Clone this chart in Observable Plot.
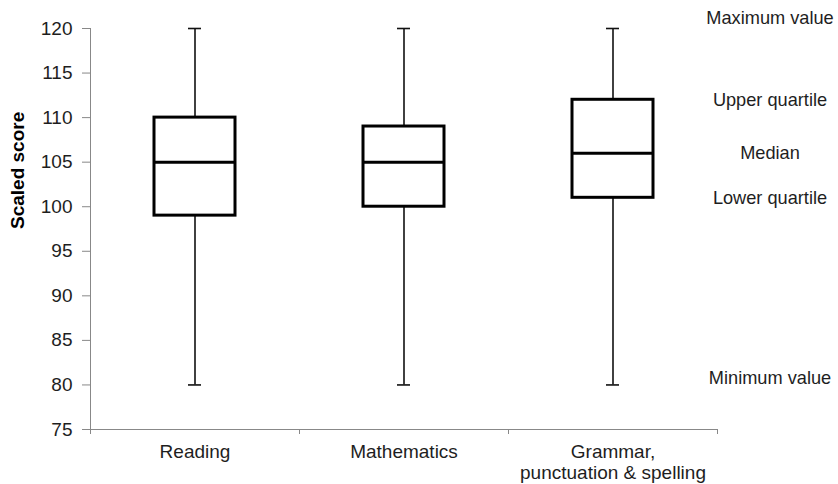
<!DOCTYPE html>
<html>
<head>
<meta charset="utf-8">
<script src="https://cdn.jsdelivr.net/npm/d3@7"></script>
<script src="https://cdn.jsdelivr.net/npm/@observablehq/plot@0.6"></script>
<style>
  html, body { margin: 0; padding: 0; background: #fff; }
  #chart svg { display: block; }
</style>
</head>
<body>
<div id="chart"></div>
<script>
// ---- data ----
const categories = ["Reading", "Mathematics", "Grammar, punctuation & spelling"];
const categoryLabels = ["Reading", "Mathematics", "Grammar,\npunctuation & spelling"];
const minValues = [80, 80, 80];
const lowerQuartiles = [99, 100, 101];
const medians = [105, 105, 106];
const upperQuartiles = [110, 109, 112];
const maxValues = [120, 120, 120];
const yTicks = [75, 80, 85, 90, 95, 100, 105, 110, 115, 120];
const yLabel = "Scaled score";
const annotationLabels = ["Maximum value", "Upper quartile", "Median", "Lower quartile", "Minimum value"];

// ---- layout / style ----
const W = 838, H = 484;
const mL = 90, mR = 121, mT = 28, mB = 55;
const bw = (W - mL - mR) / categories.length;
const axisGray = "#888";
const textColor = "#1e1e1e";
const font = "'Liberation Sans', Arial, sans-serif";

const rows = categories.map((c, i) => ({
  category: c,
  min: minValues[i],
  q1: lowerQuartiles[i],
  median: medians[i],
  q3: upperQuartiles[i],
  max: maxValues[i]
}));

const last = rows[rows.length - 1];
const annotationValues = [last.max, last.q3, last.median, last.q1, last.min];
const annotations = annotationLabels.map((label, i) => ({label, value: annotationValues[i], category: last.category}));
const annotationDy = {"Maximum value": -10, "Upper quartile": 0.5, "Median": 0, "Lower quartile": 0, "Minimum value": -7};

const chart = Plot.plot({
  width: W,
  height: H,
  marginLeft: mL,
  marginRight: mR,
  marginTop: mT,
  marginBottom: mB,
  style: {fontFamily: font, color: textColor, background: "#fff"},
  x: {domain: categories, padding: 0},
  y: {domain: [75, 120]},
  marks: [
    // axes lines
    Plot.ruleY([75], {stroke: axisGray, strokeWidth: 1}),
    Plot.frame({anchor: "left", stroke: axisGray, strokeWidth: 1}),
    // x boundary ticks
    Plot.ruleX(categories, {x: d => d, y1: 75, y2: 75, insetBottom: -5, dx: -bw / 2, stroke: axisGray}),
    Plot.ruleX([categories[categories.length - 1]], {x: d => d, y1: 75, y2: 75, insetBottom: -5, dx: bw / 2, stroke: axisGray}),
    // y axis
    Plot.axisY({
      ticks: yTicks,
      tickSize: 8,
      tickPadding: 10,
      stroke: axisGray,
      fill: textColor,
      fontSize: 19,
      label: null
    }),
    // x axis labels
    Plot.axisX({
      tickSize: 0,
      tickPadding: 13,
      fontSize: 19,
      lineHeight: 1.13,
      fill: textColor,
      tickFormat: d => categoryLabels[categories.indexOf(d)],
      label: null
    }),
    // y label
    Plot.text([yLabel], {
      frameAnchor: "left",
      dx: -72.5,
      rotate: -90,
      text: d => d,
      fontSize: 19,
      fontWeight: "bold",
      fill: "#000"
    }),
    // whiskers
    Plot.ruleX(rows, {x: "category", y1: "min", y2: "q1", stroke: "#111", strokeWidth: 1.6}),
    Plot.ruleX(rows, {x: "category", y1: "q3", y2: "max", stroke: "#111", strokeWidth: 1.6}),
    Plot.tickY(rows, {x: "category", y: "min", insetLeft: 98, insetRight: 98, stroke: "#111", strokeWidth: 1.6}),
    Plot.tickY(rows, {x: "category", y: "max", insetLeft: 98, insetRight: 98, stroke: "#111", strokeWidth: 1.6}),
    // boxes
    Plot.barY(rows, {x: "category", y1: "q1", y2: "q3", insetLeft: 64, insetRight: 64, fill: "#fff", stroke: "#000", strokeWidth: 3}),
    Plot.tickY(rows, {x: "category", y: "median", insetLeft: 64, insetRight: 64, stroke: "#000", strokeWidth: 3}),
    // annotations
    ...annotations.map(a => Plot.text([a], {
      x: "category",
      y: "value",
      text: "label",
      dx: 157,
      dy: annotationDy[a.label],
      fontSize: 18.2,
      fill: textColor,
      textAnchor: "middle"
    }))
  ]
});

document.getElementById("chart").appendChild(chart);
</script>
</body>
</html>
